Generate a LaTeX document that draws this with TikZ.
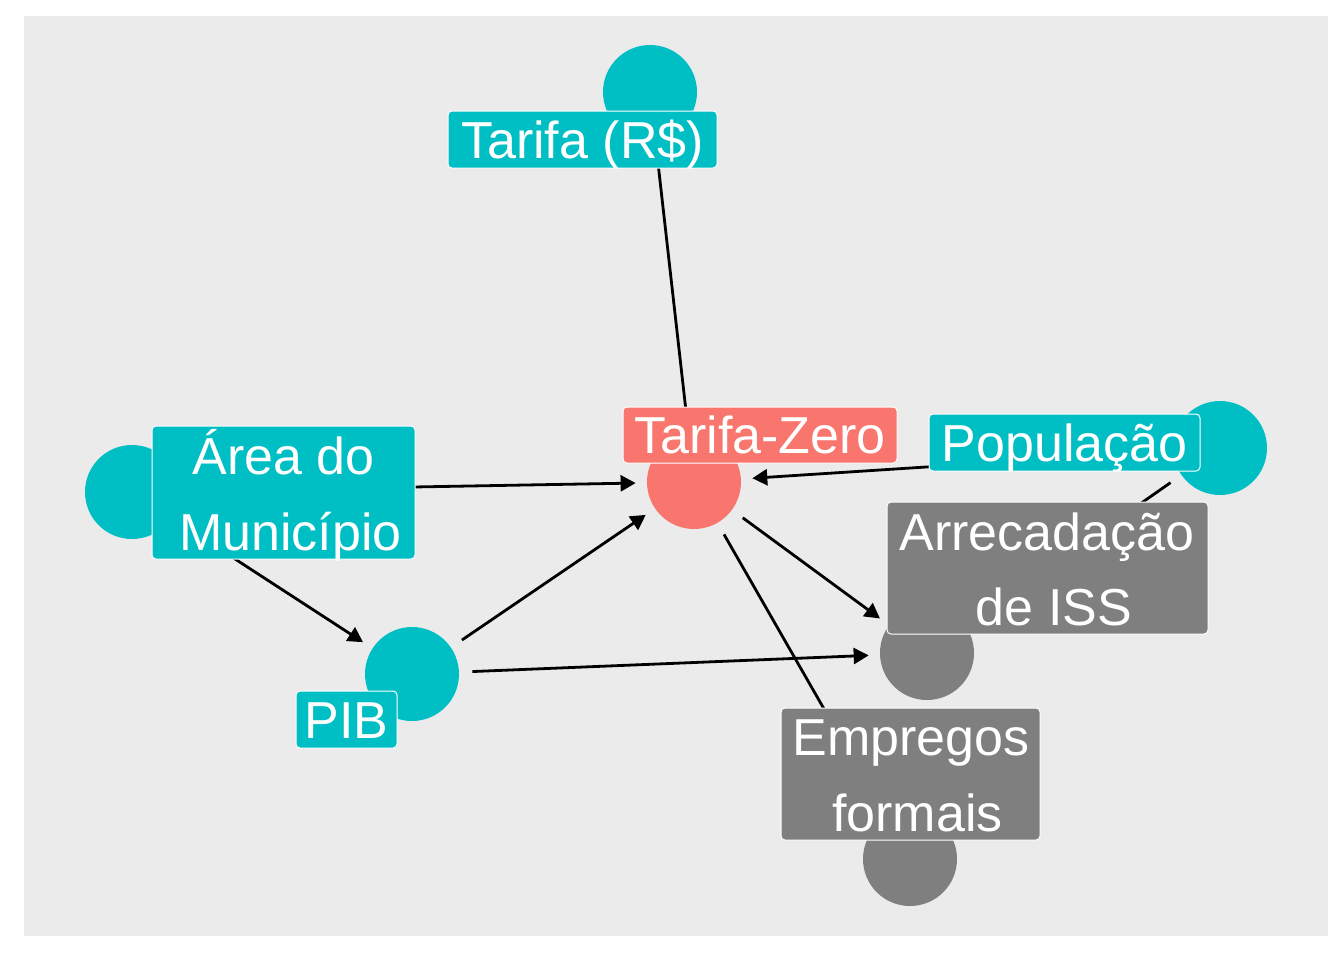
\documentclass[tikz,border=0pt]{standalone}
\usepackage{fontspec}
\setmainfont{Liberation Sans}
\usetikzlibrary{arrows.meta}
\definecolor{panelbg}{HTML}{EBEBEB}
\definecolor{tealc}{HTML}{00BFC4}
\definecolor{salmonc}{HTML}{F8766D}
\definecolor{grayc}{HTML}{7F7F7F}
\begin{document}
\begin{tikzpicture}[x=0.5pt,y=-0.5pt,
  dot/.style={circle, minimum size=47pt, inner sep=0pt, draw=none},
  edgearrow/.style={line width=1.4pt, -{Triangle[length=7.5pt,width=8pt]}, shorten >=5.5pt, shorten <=6.5pt},
  labbox/.style={rounded corners=2pt, draw=white, line width=0.5pt, inner sep=0pt},
  labtxt/.style={text=white, font=\fontsize{26}{31}\selectfont, inner sep=0pt, anchor=base}]
\useasboundingbox (0,0) rectangle (1344,960);
\fill[white] (0,0) rectangle (1344,960);
\fill[panelbg] (24,16) rectangle (1328,936);

% circles
\node[dot, fill=tealc] (tarifa) at (650,92) {};
\node[dot, fill=salmonc] (tz) at (694,482) {};
\node[dot, fill=tealc] (pop) at (1220,448) {};
\node[dot, fill=tealc] (area) at (132,492) {};
\node[dot, fill=tealc] (pib) at (412,674) {};
\node[dot, fill=grayc] (arr) at (927,653) {};
\node[dot, fill=grayc] (emp) at (910,859) {};

% edges
\draw[edgearrow] (tarifa) -- (tz);
\draw[edgearrow] (area) -- (tz);
\draw[edgearrow] (area) -- (pib);
\draw[edgearrow] (pib) -- (tz);
\draw[edgearrow] (pib) -- (arr);
\draw[edgearrow] (tz) -- (arr);
\draw[edgearrow] (pop) -- (tz);
\draw[edgearrow] (tz) -- (emp);
\draw[edgearrow] (pop) -- (arr);

% label boxes
\node[labbox, fill=tealc, minimum width=134.5pt, minimum height=28.5pt] (tarifaL) at (582.5,139.5) {};
\node[labbox, fill=salmonc, minimum width=137pt, minimum height=28pt] (tzL) at (760,435) {};
\node[labbox, fill=tealc, minimum width=135.5pt, minimum height=28.5pt] (popL) at (1064.5,442.5) {};
\node[labbox, fill=tealc, minimum width=131.5pt, minimum height=66.5pt] (areaL) at (283.5,492.5) {};
\node[labbox, fill=tealc, minimum width=50.5pt, minimum height=28.5pt] (pibL) at (346.5,719.5) {};
\node[labbox, fill=grayc, minimum width=160.5pt, minimum height=66pt] (arrL) at (1047.5,568) {};
\node[labbox, fill=grayc, minimum width=129.5pt, minimum height=66pt] (empL) at (910.5,774) {};

% label texts
\node[labtxt] (tarifaT) at (582.5,158) {Tarifa (R\$)};
\node[labtxt] (tzT) at (760,453) {Tarifa-Zero};
\node[labtxt] (popT) at (1064.5,461) {População};
\node[labtxt] (areaT1) at (283.5,474) {Área do};
\node[labtxt] (areaT2) at (290.5,550) {Município};
\node[labtxt] (pibT) at (346.5,738) {PIB};
\node[labtxt] (arrT1) at (1047,550) {Arrecadação};
\node[labtxt] (arrT2) at (1054,625) {de ISS};
\node[labtxt] (empT1) at (911,755) {Empregos};
\node[labtxt] (empT2) at (917.5,831) {formais};
\end{tikzpicture}
\end{document}
